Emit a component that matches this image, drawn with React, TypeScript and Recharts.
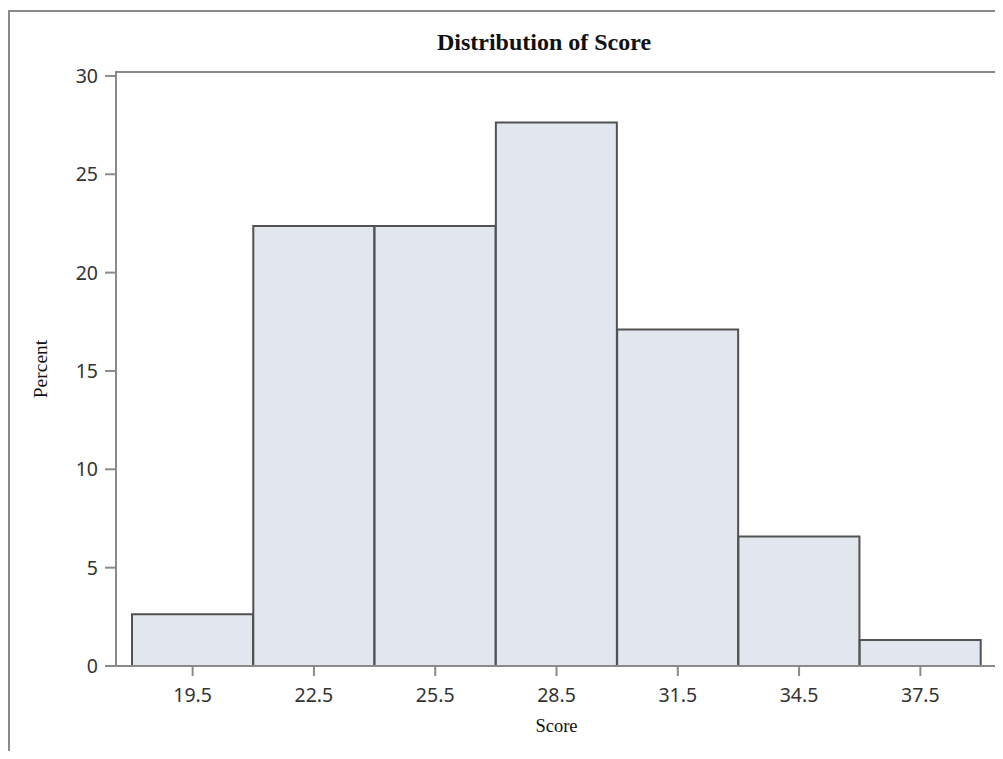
import React from 'react';
import { BarChart, Bar, XAxis, YAxis, Label } from 'recharts';

// histogram bins (midpoints) and percent of observations in each
const binMidpoints = ['19.5', '22.5', '25.5', '28.5', '31.5', '34.5', '37.5'];
const percents = [2.63, 22.37, 22.37, 27.63, 17.11, 6.58, 1.32];
const percentTicks = [0, 5, 10, 15, 20, 25, 30];

const data = binMidpoints.map((score, i) => ({ score, percent: percents[i] }));

const frameColor = '#8a8a8a';
const tickFont = { fontFamily: 'Noto Sans', fontSize: 19.5, fill: '#333' };
const serif = 'Liberation Serif, "Times New Roman", serif';

const App: React.FC = () => {
  return (
    <div style={{ position: 'relative', width: 995, height: 743, overflow: 'hidden' }}>
      {/* outer graph border, cut off on the right and bottom */}
      <div
        style={{
          position: 'absolute',
          left: 0,
          top: 2,
          width: 1200,
          height: 1000,
          border: `2px solid ${frameColor}`,
        }}
      />
      <BarChart
        width={995}
        height={743}
        data={data}
        margin={{ top: 64, right: 6, bottom: 0, left: 0 }}
        barCategoryGap={0}
        style={{ position: 'absolute', left: 0, top: 0 }}
      >
        <XAxis
          dataKey="score"
          height={85}
          padding={{ left: 16, right: 16 }}
          tickSize={10}
          tickMargin={12}
          tick={tickFont}
          fontSize={19.5}
          fontFamily="Noto Sans"
          axisLine={{ stroke: frameColor, strokeWidth: 2 }}
          tickLine={{ stroke: frameColor, strokeWidth: 2 }}
        >
          <Label
            content={({ viewBox }: any) => (
              <text
                x={viewBox.x + viewBox.width / 2}
                y={viewBox.y + viewBox.height - 19}
                textAnchor="middle"
                style={{ fontFamily: serif, fontSize: 18.5, fill: '#111' }}
              >
                Score
              </text>
            )}
          />
        </XAxis>
        <YAxis
          width={108}
          domain={[0, 30.2]}
          ticks={percentTicks}
          tickSize={11}
          tickMargin={7}
          tick={tickFont}
          fontSize={19.5}
          fontFamily="Noto Sans"
          axisLine={{ stroke: frameColor, strokeWidth: 2 }}
          tickLine={{ stroke: frameColor, strokeWidth: 2 }}
        >
          <Label
            content={({ viewBox }: any) => {
              const cx = 32;
              const cy = viewBox.y + viewBox.height / 2;
              return (
                <text
                  x={cx}
                  y={cy}
                  transform={`rotate(-90 ${cx} ${cy})`}
                  textAnchor="middle"
                  dominantBaseline="central"
                  style={{ fontFamily: serif, fontSize: 19.5, fill: '#111' }}
                >
                  Percent
                </text>
              );
            }}
          />
          <Label
            content={() => (
              <text
                x={536}
                y={42}
                textAnchor="middle"
                style={{ fontFamily: serif, fontSize: 24, fontWeight: 'bold', fill: '#111' }}
              >
                Distribution of Score
              </text>
            )}
          />
        </YAxis>
        <Bar
          dataKey="percent"
          fill="#e1e6ef"
          stroke="#525252"
          strokeWidth={2}
          isAnimationActive={false}
        />
      </BarChart>
      {/* plot area frame (top and right sides) */}
      <div
        style={{
          position: 'absolute',
          left: 107,
          top: 63,
          width: 883,
          height: 596,
          boxSizing: 'border-box',
          borderTop: `2px solid ${frameColor}`,
          borderRight: `2px solid ${frameColor}`,
          pointerEvents: 'none',
        }}
      />
    </div>
  );
};

export default App;
